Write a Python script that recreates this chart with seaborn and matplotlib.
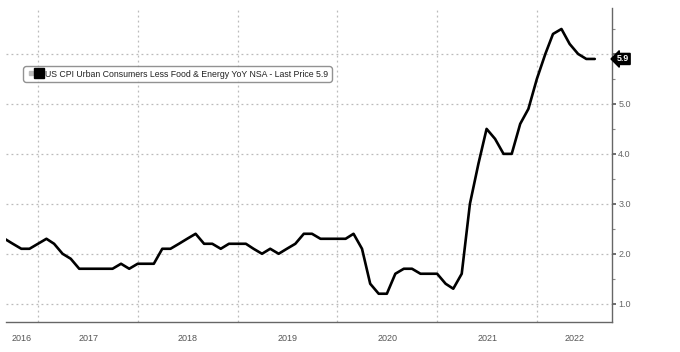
import pandas as pd
import numpy as np
import matplotlib
matplotlib.use('Agg')
import matplotlib.pyplot as plt
import matplotlib.dates as mdates
import matplotlib.transforms as mtransforms
from matplotlib.lines import Line2D
from matplotlib.legend_handler import HandlerTuple
import seaborn as sns

# monthly values, Aug 2016 - Jul 2022, plotted at month end
months = pd.date_range('2016-09-01', '2022-08-01', freq='MS') - pd.Timedelta(days=1)
core_cpi = [
    2.3, 2.2, 2.1, 2.1, 2.2,
    2.3, 2.2, 2.0, 1.9, 1.7, 1.7, 1.7, 1.7, 1.7, 1.8, 1.7, 1.8,
    1.8, 1.8, 2.1, 2.1, 2.2, 2.3, 2.4, 2.2, 2.2, 2.1, 2.2, 2.2,
    2.2, 2.1, 2.0, 2.1, 2.0, 2.1, 2.2, 2.4, 2.4, 2.3, 2.3, 2.3,
    2.3, 2.4, 2.1, 1.4, 1.2, 1.2, 1.6, 1.7, 1.7, 1.6, 1.6, 1.6,
    1.4, 1.3, 1.6, 3.0, 3.8, 4.5, 4.3, 4.0, 4.0, 4.6, 4.9, 5.5,
    6.0, 6.4, 6.5, 6.2, 6.0, 5.9, 5.9,
]
years = [2016, 2017, 2018, 2019, 2020, 2021, 2022]
y_ticks = [1.0, 2.0, 3.0, 4.0, 5.0, 6.0]
last_price = 5.9
series_name = 'US CPI Urban Consumers Less Food & Energy YoY NSA - Last Price 5.9'

df = pd.DataFrame({'date': months, 'value': core_cpi})

sns.set_style('white')
plt.rcParams['font.family'] = ['Liberation Sans', 'DejaVu Sans']

fig = plt.figure(figsize=(6.8, 3.52), dpi=100)
ax = fig.add_axes([6 / 680, 1 - 322 / 352, (612 - 6) / 680, (322 - 8) / 352])

sns.lineplot(data=df, x='date', y='value', ax=ax, color='black', linewidth=1.9)

x_lo = pd.Timestamp('2016-09-05')
x_hi = pd.Timestamp('2022-10-02')
ax.set_xlim(x_lo, x_hi)
ax.set_ylim(0.634, 6.92)

# spines
for s in ['top', 'left']:
    ax.spines[s].set_visible(False)
ax.spines['right'].set_color('#666666')
ax.spines['bottom'].set_color('#666666')
ax.spines['right'].set_linewidth(1.0)
ax.spines['bottom'].set_linewidth(1.0)

# right y axis
ax.yaxis.tick_right()
ax.set_yticks(y_ticks)
ax.set_yticklabels([f'{v:.1f}' if v < 6 else '' for v in y_ticks])
ax.set_yticks(np.arange(1.5, 7.0, 1.0), minor=True)
ax.tick_params(axis='y', which='major', direction='out', length=3, width=1.2,
               color='#555555', labelsize=6.5, labelcolor='#666666', pad=1.5)
ax.tick_params(axis='y', which='minor', direction='out', length=2, width=0.8,
               color='#888888')

# x axis: year separators as long ticks, quarterly small ticks
ax.xaxis.set_major_locator(mdates.YearLocator())
ax.xaxis.set_minor_locator(mdates.MonthLocator(bymonth=[1, 4, 7, 10]))
ax.xaxis.set_major_formatter(plt.NullFormatter())
ax.tick_params(axis='x', which='major', direction='out', length=23, width=0.8,
               color='#aaaaaa')
ax.tick_params(axis='x', which='minor', direction='out', length=3, width=0.8,
               color='#666666')
ax.set_xlabel('')
ax.set_ylabel('')

# grid
ax.grid(True, axis='y', which='major', linestyle=(0, (1.5, 2.5)), color='#bbbbbb', linewidth=0.9)
ax.grid(True, axis='x', which='major', linestyle=(0, (1.5, 2.5)), color='#bbbbbb', linewidth=0.9)

# year labels centred on the visible part of each year
trans = mtransforms.blended_transform_factory(ax.transData, ax.transAxes)
for yr in years:
    a = max(pd.Timestamp(f'{yr}-01-01'), x_lo)
    b = min(pd.Timestamp(f'{yr + 1}-01-01'), x_hi)
    mid = a + (b - a) / 2
    ax.text(mdates.date2num(mid), -0.052, str(yr), transform=trans, ha='center', va='center',
            fontsize=6.5, color='#555555')

# last price tag
trans_y = mtransforms.blended_transform_factory(ax.transAxes, ax.transData)
ax.text(1.008, last_price, f'{last_price:.1f}', transform=trans_y, ha='left', va='center',
        fontsize=6.3, color='white', fontweight='bold',
        bbox=dict(boxstyle='larrow,pad=0.12', fc='black', ec='black'), clip_on=False, zorder=5)

# legend
h_small = Line2D([], [], marker='s', markersize=3, color='#bbbbbb', linestyle='none')
h_big = Line2D([], [], marker='s', markersize=6.5, color='black', linestyle='none')
leg = ax.legend([(h_small, h_big)], [series_name],
                handler_map={tuple: HandlerTuple(ndivide=None, pad=0.0)},
                loc='upper left', bbox_to_anchor=(23 / 680, 1 - 66 / 352),
                bbox_transform=fig.transFigure, borderaxespad=0, fontsize=6.35,
                handlelength=1.95, handletextpad=0.15, borderpad=0.4,
                frameon=True, fancybox=True)
frame = leg.get_frame()
frame.set_edgecolor('#777777')
frame.set_linewidth(1.0)
frame.set_boxstyle('round,pad=0,rounding_size=0.3')
for t in leg.get_texts():
    t.set_color('#222222')

fig.savefig('out.png', dpi=100, facecolor='white')
